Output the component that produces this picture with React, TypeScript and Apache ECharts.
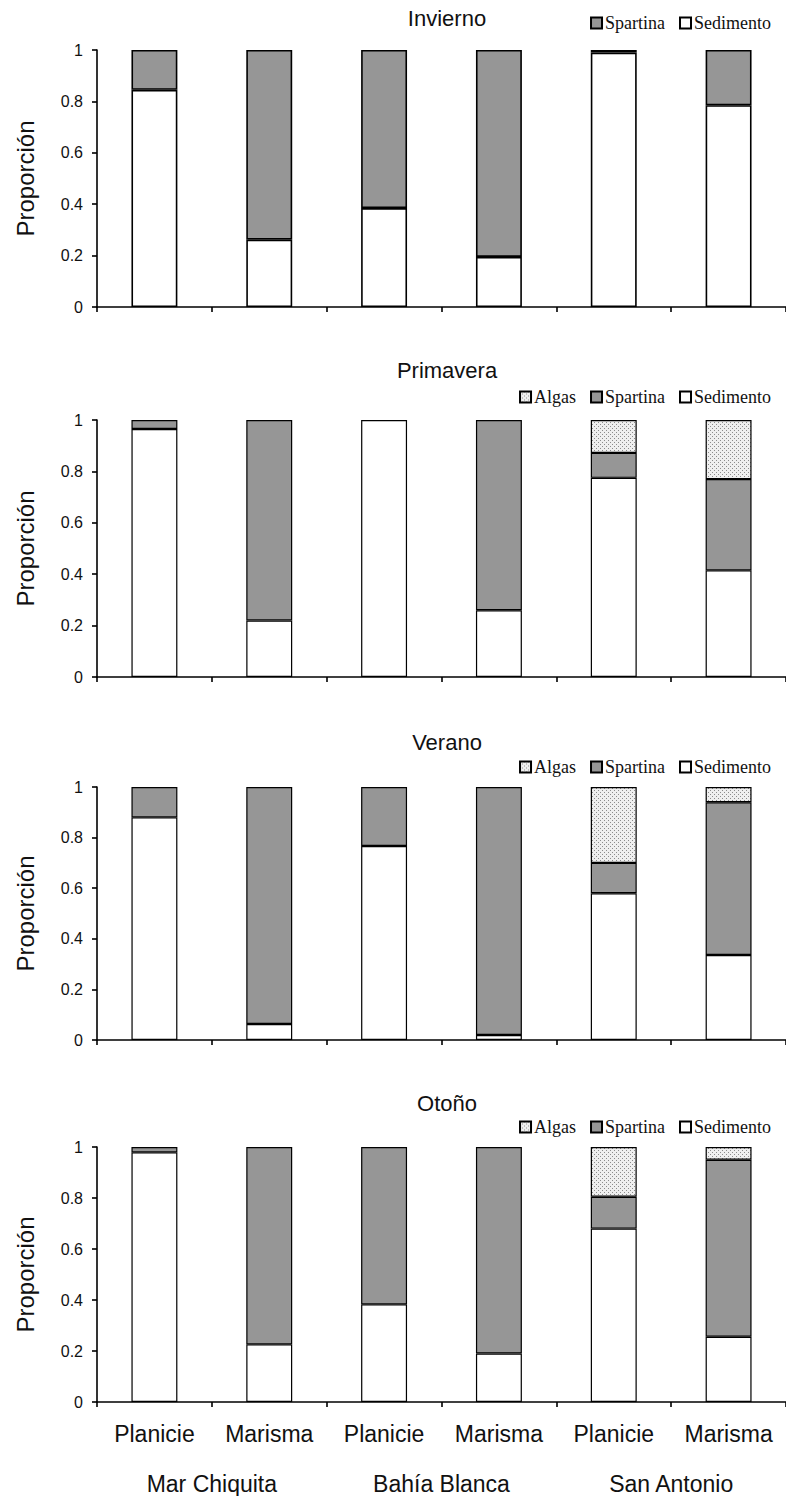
import React, { useEffect, useRef } from "react";
import * as echarts from "echarts";

const categories = ["Planicie", "Marisma", "Planicie", "Marisma", "Planicie", "Marisma"];
const sites = ["Mar Chiquita", "Bahía Blanca", "San Antonio"];
const seasons = ["Invierno", "Primavera", "Verano", "Otoño"];

// Invierno
const invSedimento = [0.845, 0.262, 0.385, 0.195, 0.99, 0.785];
const invSpartina = [0.155, 0.738, 0.615, 0.805, 0.01, 0.215];
// Primavera
const priSedimento = [0.965, 0.22, 1.0, 0.26, 0.775, 0.415];
const priSpartina = [0.035, 0.78, 0, 0.74, 0.097, 0.355];
const priAlgas = [0, 0, 0, 0, 0.128, 0.23];
// Verano
const verSedimento = [0.88, 0.063, 0.767, 0.02, 0.58, 0.336];
const verSpartina = [0.12, 0.937, 0.233, 0.98, 0.12, 0.604];
const verAlgas = [0, 0, 0, 0, 0.3, 0.06];
// Otoño
const otoSedimento = [0.979, 0.226, 0.383, 0.19, 0.68, 0.256];
const otoSpartina = [0.021, 0.774, 0.617, 0.81, 0.125, 0.694];
const otoAlgas = [0, 0, 0, 0, 0.195, 0.05];

const panelData = [
  { sed: invSedimento, spa: invSpartina, alg: null as number[] | null },
  { sed: priSedimento, spa: priSpartina, alg: priAlgas },
  { sed: verSedimento, spa: verSpartina, alg: verAlgas },
  { sed: otoSedimento, spa: otoSpartina, alg: otoAlgas },
];

const layout = [
  { top: 50, height: 257, titleY: 18, legendY: 23, border: 1.6 },
  { top: 420, height: 257, titleY: 370, legendY: 397, border: 1.2 },
  { top: 787, height: 253, titleY: 742, legendY: 767, border: 1.2 },
  { top: 1147, height: 255, titleY: 1103, legendY: 1127, border: 1.2 },
];

const SANS = "'Liberation Sans', Arial, sans-serif";
const SERIF = "'Liberation Serif', 'Times New Roman', serif";

function makeDots() {
  const c = document.createElement("canvas");
  c.width = 4;
  c.height = 4;
  const ctx = c.getContext("2d")!;
  ctx.fillStyle = "#efefef";
  ctx.fillRect(0, 0, 4, 4);
  ctx.fillStyle = "#8c8c8c";
  ctx.fillRect(0, 0, 1, 1);
  ctx.fillRect(2, 2, 1, 1);
  return c;
}

const nz = (arr: number[]) => arr.map((v) => (v === 0 ? null : v));

export default function App() {
  const ref = useRef<HTMLDivElement>(null);
  useEffect(() => {
    if (!ref.current) return;
    const chart = echarts.init(ref.current, undefined, { renderer: "svg" });
    const dots = makeDots();
    const algasColor: any = { image: dots, repeat: "repeat" };

    const grid: any[] = [];
    const xAxis: any[] = [];
    const yAxis: any[] = [];
    const title: any[] = [];
    const legend: any[] = [];
    const series: any[] = [];

    layout.forEach((L, i) => {
      grid.push({ left: 97, right: 0, top: L.top, height: L.height, containLabel: false });
      title.push({
        text: seasons[i],
        left: 442,
        textAlign: "center",
        top: L.titleY - 16,
        textStyle: { fontFamily: SANS, fontSize: 22, fontWeight: "normal", color: "#111" },
      });
      legend.push({
        data: panelData[i].alg ? ["Algas", "Spartina", "Sedimento"] : ["Spartina", "Sedimento"],
        right: 10,
        top: L.legendY - 14,
        itemWidth: 11,
        itemHeight: 11,
        itemGap: 14,
        selectedMode: false,
        icon: "rect",
        textStyle: { fontFamily: SERIF, fontSize: 18, color: "#111", padding: [0, 0, 0, -2] },
      });
      xAxis.push({
        type: "category",
        gridIndex: i,
        data: categories,
        axisLine: { lineStyle: { color: "#000", width: 1.6 } },
        axisTick: { show: true, length: 5, lineStyle: { color: "#000", width: 1.6 } },
        axisLabel: {
          show: i === 3,
          margin: 20,
          fontFamily: SANS,
          fontSize: 23,
          color: "#111",
        },
        splitLine: { show: false },
      });
      yAxis.push({
        type: "value",
        gridIndex: i,
        min: 0,
        max: 1,
        interval: 0.2,
        name: "Proporción",
        nameLocation: "middle",
        nameRotate: 90,
        nameGap: 60,
        nameTextStyle: { fontFamily: SANS, fontSize: 24, color: "#111" },
        axisLine: { show: true, lineStyle: { color: "#000", width: 1.6 } },
        axisTick: { show: true, length: 5, lineStyle: { color: "#000", width: 1.6 } },
        axisLabel: { margin: 14, fontFamily: SANS, fontSize: 16, color: "#111" },
        splitLine: { show: false },
      });
      const common = {
        type: "bar",
        xAxisIndex: i,
        yAxisIndex: i,
        stack: "p" + i,
        barWidth: "40%",
        legendHoverLink: false,
      };
      series.push({
        ...common,
        name: "Sedimento",
        data: nz(panelData[i].sed),
        itemStyle: { color: "#ffffff", borderColor: "#000", borderWidth: L.border },
      });
      series.push({
        ...common,
        name: "Spartina",
        data: nz(panelData[i].spa),
        itemStyle: { color: "#969696", borderColor: "#000", borderWidth: L.border },
      });
      if (panelData[i].alg) {
        series.push({
          ...common,
          name: "Algas",
          data: nz(panelData[i].alg as number[]),
          itemStyle: { color: algasColor, borderColor: "#000", borderWidth: L.border },
        });
      }
    });

    xAxis.push({
      type: "category",
      gridIndex: 3,
      data: sites,
      position: "bottom",
      offset: 55,
      axisLine: { show: false },
      axisTick: { show: false },
      axisLabel: { margin: 15, fontFamily: SANS, fontSize: 23, color: "#111" },
      splitLine: { show: false },
    });

    chart.setOption({
      animation: false,
      backgroundColor: "#ffffff",
      title,
      legend,
      grid,
      xAxis,
      yAxis,
      series,
    });
    return () => chart.dispose();
  }, []);
  return (
    <div
      ref={ref}
      style={{ position: "fixed", left: 0, top: 0, width: 786, height: 1496, background: "#fff" }}
    />
  );
}
